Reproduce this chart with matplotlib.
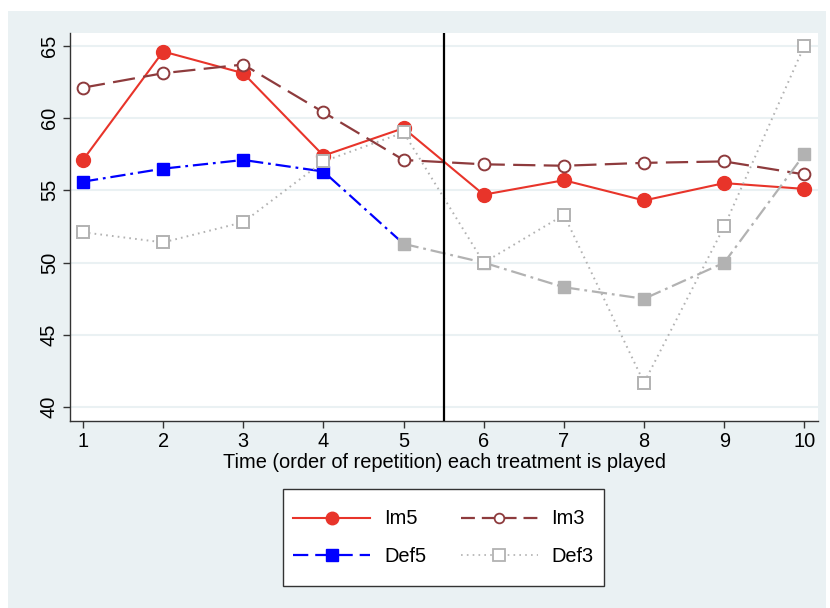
import matplotlib
matplotlib.use("Agg")
import matplotlib.pyplot as plt
from matplotlib.patches import Rectangle
from matplotlib.lines import Line2D

plt.rcParams['font.family'] = ['Liberation Sans', 'DejaVu Sans']
plt.rcParams['lines.scale_dashes'] = False

# data
times = [1, 2, 3, 4, 5, 6, 7, 8, 9, 10]
im5 = [57.1, 64.6, 63.1, 57.4, 59.3, 54.7, 55.7, 54.3, 55.5, 55.1]
im3 = [62.1, 63.1, 63.7, 60.4, 57.1, 56.8, 56.7, 56.9, 57.0, 56.1]
def5 = [55.6, 56.5, 57.1, 56.3, 51.3, 50.0, 48.3, 47.5, 50.0, 57.5]
def3 = [52.1, 51.4, 52.8, 57.0, 59.0, 50.0, 53.3, 41.7, 52.5, 65.0]
labels = ["Im5", "Im3", "Def5", "Def3"]

red = "#E8342A"
maroon = "#8E3B3D"
blue = "#0000FF"
grey = "#B2B2B2"
bg = "#EAF1F3"
fs = 14.4

fig = plt.figure(figsize=(8.30, 6.08), dpi=100)
fig.patch.set_facecolor("white")
fig.patches.append(Rectangle((8/830, 0), 818/830, 597/608, transform=fig.transFigure,
                             facecolor=bg, edgecolor="none", zorder=-10))

ax = fig.add_axes([70/830, 1-421/608, 748/830, 388/608])
ax.set_facecolor("white")

dash_im3 = (0, (16, 6))
dash_def5 = (0, (11, 3.5, 2, 3.5))
dot_def3 = (0, (1.2, 3))

ax.plot(times, im5, color=red, lw=1.5, marker="o", ms=10, mfc=red, mec=red, zorder=3)
ax.plot(times, im3, color=maroon, lw=1.6, ls=dash_im3, marker="o", ms=8.5,
        mfc="white", mec=maroon, mew=1.4, zorder=3)
ax.plot(times[:5], def5[:5], color=blue, lw=1.6, ls=dash_def5, marker="s", ms=9,
        markevery=[0, 1, 2, 3], mfc=blue, mec=blue, zorder=3)
ax.plot(times[4:], def5[4:], color=grey, lw=1.6, ls=dash_def5, marker="s", ms=9,
        mfc=grey, mec=grey, zorder=3)
ax.plot(times, def3, color=grey, lw=1.4, ls=dot_def3, marker="s", ms=8,
        mfc="white", mec=grey, mew=1.4, zorder=4)

ax.axvline(5.5, color="black", lw=1.6, zorder=5)

ax.set_xlim(0.838, 10.17)
ax.set_ylim(39.05, 65.88)
ax.set_xticks(times)
ax.set_yticks([40, 45, 50, 55, 60, 65])
ax.yaxis.grid(True, color=bg, lw=1.5)
ax.set_axisbelow(True)

for s in ["top", "right"]:
    ax.spines[s].set_visible(False)
for s in ["left", "bottom"]:
    ax.spines[s].set_color("#333333")
    ax.spines[s].set_linewidth(1.0)

ax.tick_params(axis="both", length=5, width=1, color="#333333", labelsize=fs, pad=3)
plt.setp(ax.get_yticklabels(), rotation=90, va="center")
ax.set_xlabel("Time (order of repetition) each treatment is played", fontsize=fs, labelpad=1)

# legend: column-first order gives rows Im5/Im3 and Def5/Def3
handles = {
    "Im5": Line2D([], [], color=red, lw=1.5, marker="o", ms=9, mfc=red, mec=red),
    "Im3": Line2D([], [], color=maroon, lw=1.6, ls=(0, (10, 5)), marker="o", ms=7,
                  mfc="white", mec=maroon, mew=1.3),
    "Def5": Line2D([], [], color=blue, lw=1.6, ls=(0, (11, 5)), marker="s", ms=8, mfc=blue, mec=blue),
    "Def3": Line2D([], [], color=grey, lw=1.2, ls=dot_def3, marker="s", ms=8, mfc="white",
                   mec=grey, mew=1.3),
}
order = ["Im5", "Def5", "Im3", "Def3"]
fig.patches.append(Rectangle((283/830, 1-586/608), 321/830, 97/608, transform=fig.transFigure,
                             facecolor="white", edgecolor="#333333", lw=1.0, zorder=1))
leg = fig.legend([handles[k] for k in order], order, ncol=2, loc="center",
                 bbox_to_anchor=(443.5/830, 1-537.5/608),
                 frameon=False, fontsize=fs, handlelength=3.85, handletextpad=0.7,
                 columnspacing=1.7, labelspacing=0.9)
leg.set_zorder(2)

fig.savefig("out.png", dpi=100, facecolor="white")
